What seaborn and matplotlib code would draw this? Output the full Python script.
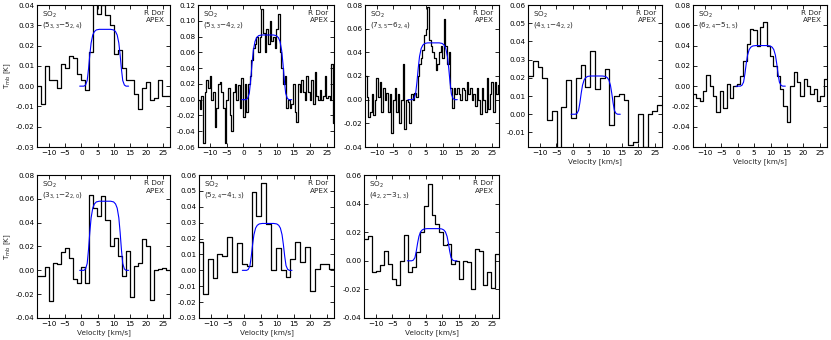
import numpy as np
import matplotlib
matplotlib.use("Agg")
import matplotlib.pyplot as plt
import seaborn as sns

# ---------------- data ----------------
transitions = [r"(5$_{3,3}$$-$5$_{2,4}$)", r"(5$_{3,3}$$-$4$_{2,2}$)", r"(7$_{3,5}$$-$6$_{2,4}$)",
               r"(4$_{3,1}$$-$4$_{2,2}$)", r"(6$_{2,4}$$-$5$_{1,5}$)", r"(3$_{3,1}$$-$2$_{2,0}$)",
               r"(5$_{2,4}$$-$4$_{1,3}$)", r"(4$_{2,2}$$-$3$_{1,3}$)"]

spec1 = [0.000, -0.009, 0.010, 0.003, 0.003, -0.001, 0.011, 0.009, 0.015, 0.014, 0.006,
         0.003, -0.002, 0.017, 0.045, 0.0355, 0.040, 0.035, 0.030, 0.016, 0.018, 0.009,
         0.003, 0.003, -0.004, -0.0115, -0.001, 0.002, -0.007, -0.006, 0.003, -0.005, -0.005]

spec2 = [0.000, -0.012, 0.005, -0.055, 0.010, 0.025, 0.015, 0.030, 0.000, 0.010,
         -0.035, -0.010, 0.020, 0.023, 0.010, -0.010, -0.055, 0.000, 0.015, -0.020,
         -0.040, 0.010, 0.020, 0.000, 0.018, -0.010, 0.027, -0.022, 0.020, -0.015,
         0.020, 0.030, 0.050, 0.065, 0.070, 0.080, 0.060, 0.080, 0.115, 0.085,
         0.060, 0.090, 0.070, 0.100, 0.075, 0.080, 0.065, 0.090, 0.108, 0.060,
         0.040, 0.020, 0.030, -0.010, 0.000, -0.010, -0.005, 0.020, -0.015, -0.028,
         0.020, 0.010, 0.025, 0.010, 0.000, 0.030, 0.010, 0.000, 0.025, -0.005,
         0.035, 0.005, 0.000, 0.012, 0.000, 0.005, 0.030, 0.002, 0.005, 0.000,
         0.045, -0.030, -0.040]

spec3 = [0.020, 0.002, -0.015, -0.010, 0.005, -0.013, 0.000, 0.018, 0.002, 0.015,
         -0.010, 0.010, 0.000, 0.006, -0.010, 0.005, -0.028, 0.000, 0.010, -0.010,
         0.005, -0.020, 0.000, 0.030, -0.025, 0.000, -0.002, -0.020, 0.005, 0.000,
         0.006, 0.002, 0.020, 0.030, 0.035, 0.042, 0.055, 0.060, 0.078, 0.050,
         0.045, 0.040, 0.035, 0.025, 0.030, 0.040, 0.045, 0.035, 0.068, 0.045,
         0.030, 0.040, 0.010, -0.007, 0.010, 0.005, 0.010, 0.005, 0.000, 0.010,
         0.008, 0.000, 0.015, 0.005, 0.010, 0.000, 0.005, -0.005, 0.010, 0.000,
         -0.012, 0.010, 0.000, -0.010, 0.018, -0.008, 0.005, 0.015, -0.010, 0.015,
         0.005, 0.012, 0.020]

spec4 = [0.021, 0.029, 0.026, 0.020, -0.003, 0.002, -0.019, 0.004, 0.019, -0.002,
         0.020, 0.027, 0.015, 0.035, 0.014, 0.020, 0.025, -0.006, 0.010, 0.011,
         0.008, -0.017, -0.015, 0.000, -0.018, 0.000, 0.002, 0.005]

spec5 = [-0.008, -0.012, -0.015, -0.005, 0.011, 0.000, -0.010, -0.025, -0.005, -0.022,
         0.002, -0.012, 0.000, 0.002, 0.010, 0.025, 0.042, 0.056, 0.055, 0.040,
         0.058, 0.063, 0.040, 0.030, 0.020, 0.010, -0.003, -0.020, -0.035, 0.000,
         0.014, 0.004, -0.010, 0.007, 0.000, -0.008, -0.003, -0.015, -0.010, 0.007]

spec6 = [-0.005, -0.005, 0.003, -0.026, 0.006, 0.005, 0.015, 0.019, 0.010, -0.007,
         -0.011, 0.003, -0.011, 0.063, 0.052, 0.046, 0.062, 0.042, 0.020, 0.027,
         0.012, -0.005, 0.016, -0.022, 0.004, 0.006, 0.026, 0.020, -0.025, 0.000,
         0.001, 0.002, 0.000]

spec7 = [0.018, -0.015, 0.007, -0.005, 0.010, 0.009, 0.021, -0.001, 0.017, 0.004,
         0.003, 0.049, 0.034, 0.055, 0.029, 0.000, 0.014, 0.000, -0.004, 0.007,
         0.018, 0.005, 0.015, -0.013, 0.001, 0.004, 0.004, 0.001]

spec8 = [0.015, 0.017, -0.008, -0.007, -0.003, 0.007, -0.002, -0.013, -0.017, 0.000,
         0.018, -0.008, -0.004, 0.006, 0.020, 0.038, 0.054, 0.032, 0.026, 0.020,
         0.011, 0.012, -0.002, 0.000, -0.013, 0.000, -0.001, -0.020, 0.008, 0.007,
         -0.017, -0.008, -0.019, 0.005]

# fitted line profile: shared shape (velocity, fraction of peak) and peak per panel
fit_v = [-0.5, 0.8, 1.3, 1.8, 2.2, 2.6, 3.0, 3.5, 4.0, 4.6, 5.5, 9.0, 9.9, 10.5,
         11.0, 11.5, 11.9, 12.3, 12.7, 13.2, 13.7, 14.5]
fit_shape = [0.0, 0.0, 0.02, 0.1, 0.3, 0.55, 0.76, 0.9, 0.96, 0.99, 1.0, 1.0, 0.99, 0.96,
             0.9, 0.76, 0.55, 0.3, 0.1, 0.02, 0.0, 0.0]
fit_peak = [0.028, 0.082, 0.048, 0.021, 0.040, 0.058, 0.0295, 0.0225]

spectra = [spec1, spec2, spec3, spec4, spec5, spec6, spec7, spec8]
chan_width = [1.236, 0.5, 0.5, 1.457, 1.02, 1.236, 1.47, 1.2]
v_start = [-13.6, -13.6, -13.6, -13.6, -13.6, -13.6, -13.9, -13.6]

ylims = [(-0.03, 0.04), (-0.06, 0.12), (-0.04, 0.08), (-0.018, 0.06),
         (-0.06, 0.08), (-0.04, 0.08), (-0.03, 0.06), (-0.04, 0.06)]
ytick_sets = [np.arange(-0.03, 0.0401, 0.01), np.arange(-0.06, 0.1201, 0.02),
              np.arange(-0.04, 0.0801, 0.02), np.arange(-0.01, 0.0601, 0.01),
              np.arange(-0.06, 0.0801, 0.02), np.arange(-0.04, 0.0801, 0.02),
              np.arange(-0.03, 0.0601, 0.01), np.arange(-0.04, 0.0601, 0.02)]
xticks = [-10, -5, 0, 5, 10, 15, 20, 25]

# ---------------- layout (pixels) ----------------
W, H = 831, 340
boxes = [(37, 5, 133, 142), (198, 5, 136, 142), (365, 5, 134, 142), (528, 5, 134, 142),
         (693, 5, 134, 142), (37, 175, 133, 143), (199, 175, 135, 143), (364, 175, 135, 143)]

sns.set_style("ticks")
plt.rcParams.update({
    "font.family": ["DejaVu Sans"],
    "xtick.direction": "in", "ytick.direction": "in",
    "xtick.top": True, "ytick.right": True,
    "xtick.major.size": 3, "ytick.major.size": 3,
    "xtick.major.width": 0.6, "ytick.major.width": 0.6,
    "axes.linewidth": 0.8, "axes.edgecolor": "black",
    "xtick.color": "black", "ytick.color": "black",
    "font.size": 5.2, "mathtext.default": "regular",
})

fig = plt.figure(figsize=(W / 100, H / 100), dpi=100)
fs = 5.2
for i in range(8):
    l, t, w, h = boxes[i]
    ax = fig.add_axes([l / W, 1 - (t + h) / H, w / W, h / H])
    vals = np.array(spectra[i])
    edges = v_start[i] + chan_width[i] * np.arange(len(vals) + 1)
    yy = np.append(vals, vals[-1])
    sns.lineplot(x=edges, y=yy, drawstyle="steps-post", color="black", lw=0.9,
                 estimator=None, sort=False, ax=ax)
    sns.lineplot(x=np.array(fit_v), y=np.array(fit_shape) * fit_peak[i], color="blue",
                 lw=0.8, estimator=None, sort=False, ax=ax)
    ax.set_xlim(-13.6, 27.2)
    ax.set_ylim(*ylims[i])
    ax.set_xticks(xticks)
    ax.set_yticks(ytick_sets[i])
    ax.yaxis.set_major_formatter(matplotlib.ticker.FormatStrFormatter("%.2f"))
    ax.tick_params(labelsize=fs, pad=2)
    ax.set_xlabel("Velocity [km/s]" if i >= 3 else "", fontsize=fs, labelpad=1.5)
    ax.set_ylabel(r"$T_{\rm mb}$ [K]" if i in (0, 5) else "", fontsize=fs, labelpad=2)
    ax.text(0.04, 0.965, r"SO$_2$", transform=ax.transAxes, ha="left", va="top", fontsize=fs)
    ax.text(0.04, 0.895, transitions[i], transform=ax.transAxes, ha="left", va="top",
            fontsize=fs)
    ax.text(0.96, 0.965, "R Dor\nAPEX", transform=ax.transAxes, ha="right", va="top",
            fontsize=fs, multialignment="right", linespacing=1.3)
    for s in ax.spines.values():
        s.set_visible(True)

fig.savefig("out.png", dpi=100)
